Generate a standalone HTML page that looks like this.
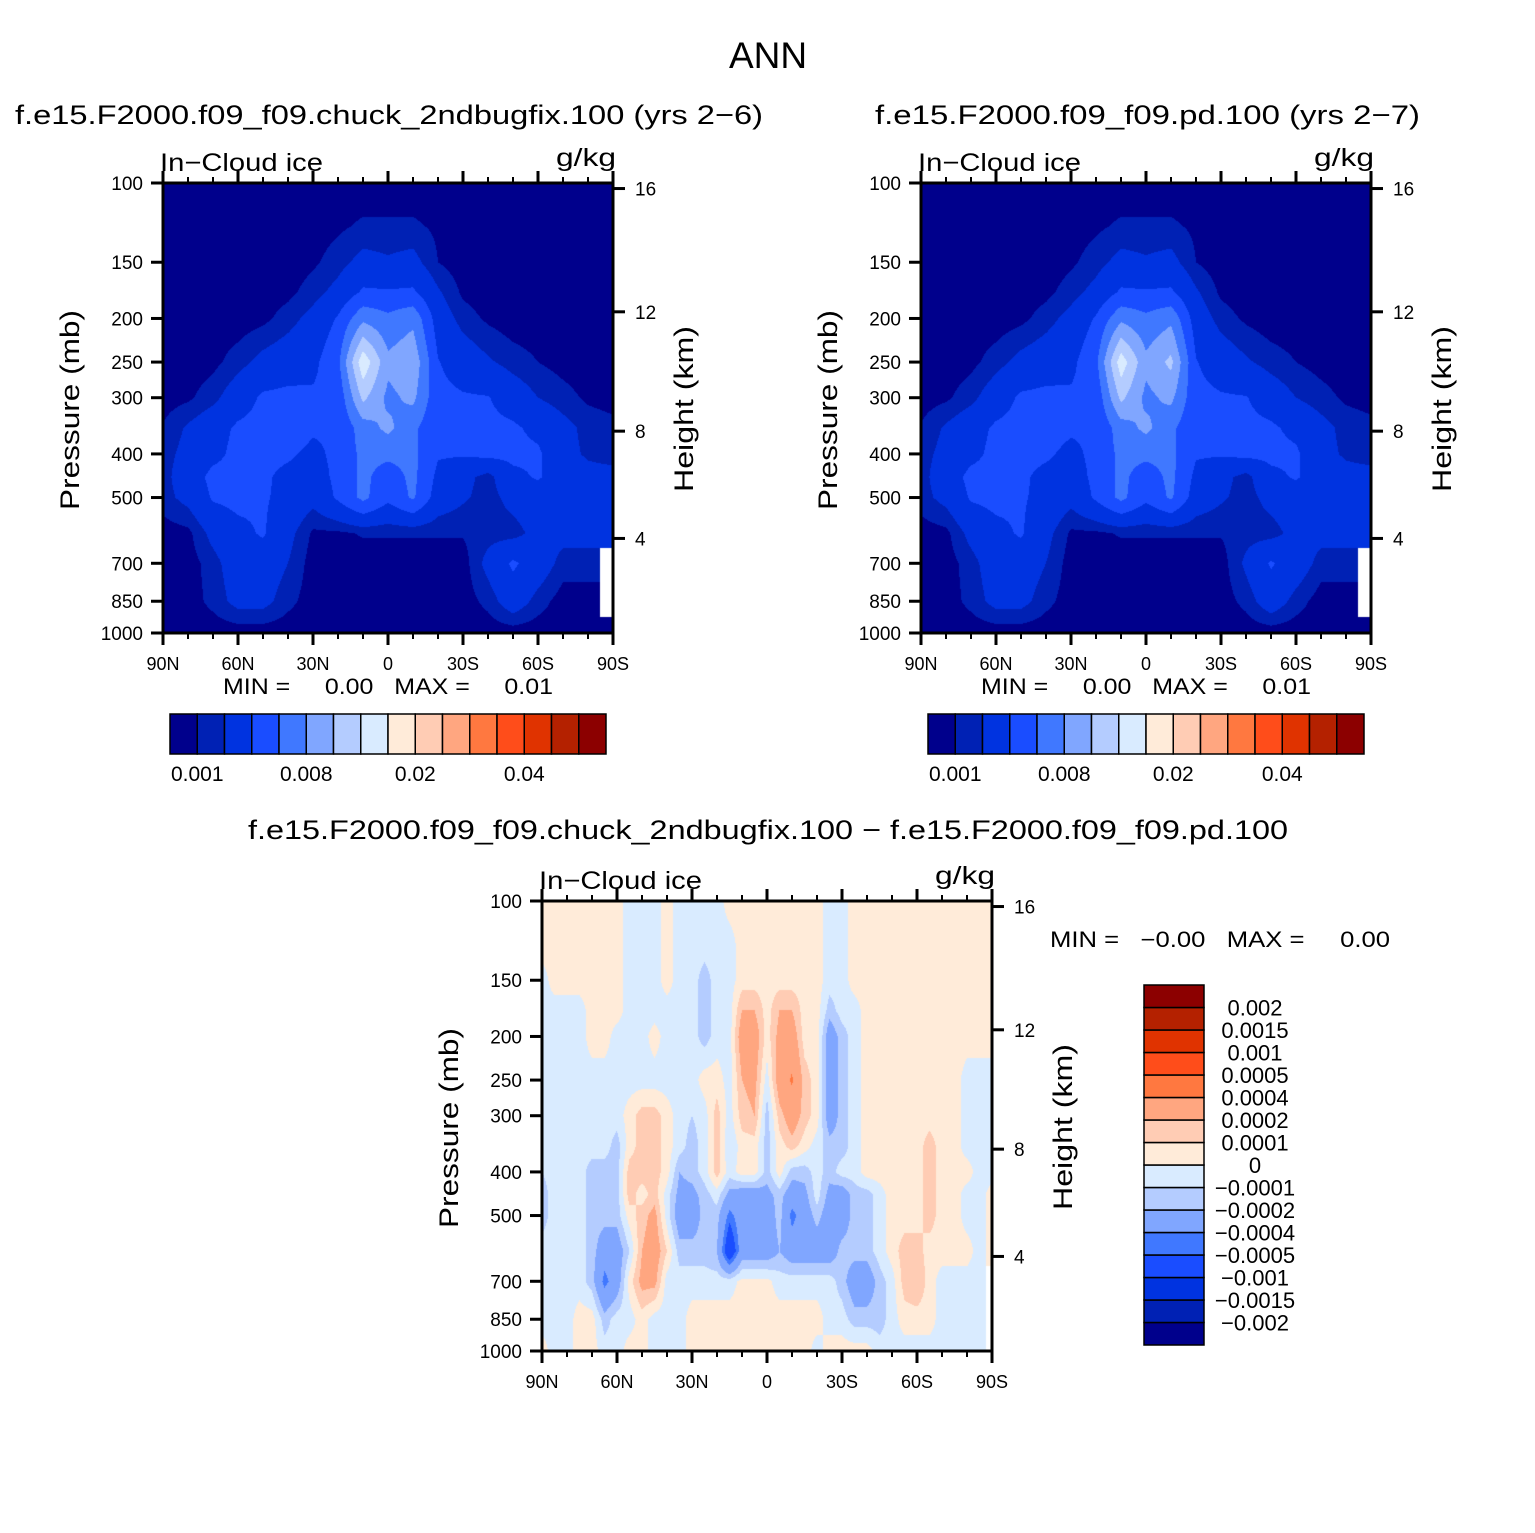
<!DOCTYPE html>
<html><head><meta charset="utf-8">
<style>
html,body{margin:0;padding:0;background:#fff;}
#wrap{position:relative;width:1535px;height:1533px;overflow:hidden;background:#fff;}
canvas{position:absolute;}
svg{position:absolute;left:0;top:0;}
text{font-family:"Liberation Sans",sans-serif;fill:#000;}
</style></head>
<body>
<div id="wrap">
<canvas id="cvL" width="450" height="450" style="left:163px;top:183px"></canvas>
<canvas id="cvR" width="450" height="450" style="left:921px;top:183px"></canvas>
<canvas id="cvD" width="450" height="450" style="left:542px;top:901px"></canvas>
<svg id="ov" width="1535" height="1533">
<text x="768" y="68" font-size="37" text-anchor="middle">ANN</text>
<text x="15" y="124" font-size="27" textLength="748" lengthAdjust="spacingAndGlyphs">f.e15.F2000.f09_f09.chuck_2ndbugfix.100 (yrs 2−6)</text>
<text x="875" y="124" font-size="27" textLength="545" lengthAdjust="spacingAndGlyphs">f.e15.F2000.f09_f09.pd.100 (yrs 2−7)</text>
<text x="248" y="839" font-size="27" textLength="1040" lengthAdjust="spacingAndGlyphs">f.e15.F2000.f09_f09.chuck_2ndbugfix.100 − f.e15.F2000.f09_f09.pd.100</text>
<text x="223" y="694" font-size="22" xml:space="preserve" textLength="330" lengthAdjust="spacingAndGlyphs">MIN =     0.00   MAX =     0.01</text>
<text x="981" y="694" font-size="22" xml:space="preserve" textLength="330" lengthAdjust="spacingAndGlyphs">MIN =     0.00   MAX =     0.01</text>
<text x="1050" y="947" font-size="22" xml:space="preserve" textLength="340" lengthAdjust="spacingAndGlyphs">MIN =   −0.00   MAX =     0.00</text>
<g id="axes"></g>
</svg>
</div>
<script>
// ---------- data ----------
const pressLevels = [100,125,150,175,200,250,300,350,400,450,500,600,700,850,1000];
const latsTop = [90,80,70,60,50,40,30,20,10,0,-10,-20,-30,-40,-50,-60,-70,-80,-90];
const latsDiff = [90,85,80,75,70,65,60,55,50,45,40,35,30,25,20,15,10,5,0,-5,-10,-15,-20,-25,-30,-35,-40,-45,-50,-55,-60,-65,-70,-75,-80,-85,-90];
// in-cloud ice, units 1e-3 g/kg
const iceLeft = [
[.3,.3,.3,.3,.3,.3,.3,.3,.3,.3,.3,.3,.3,.3,.3,.3,.3,.3,.3],
[.5,.5,.5,.5,.5,.5,.5,.8,1.2,1.2,1.2,.8,.5,.5,.5,.5,.5,.5,.5],
[.4,.4,.4,.4,.4,.4,.8,1.5,2.5,2.2,2.5,1.0,.4,.4,.4,.4,.4,.4,.4],
[.4,.4,.4,.4,.4,.7,1.5,2.5,4.3,4.2,4.3,2.2,.8,.4,.4,.4,.4,.4,.4],
[.4,.4,.4,.4,.7,1.5,2.5,4.2,7.5,6.5,7.5,3,1.5,.8,.4,.4,.4,.4,.4],
[.4,.4,.7,1.5,2.5,3,3.5,5.5,13.5,8.5,9.5,4.1,3,2.2,1.5,1.0,.6,.4,.4],
[.5,.8,1.6,3,4.3,4.5,4.3,4.5,10.5,7.5,8.5,4.5,4.2,4.1,3,2,1.4,.8,.6],
[1.1,2.2,3.2,4.3,4.6,5.2,4.3,4.2,7,8.5,6.5,4.2,4.3,4.5,4.3,3.5,2.5,1.6,1.3],
[1.5,2.5,3.5,4.5,4.5,4.3,3.5,4.5,6.5,6.5,6.5,4.2,4.2,4.5,4.5,4.3,2.5,1.8,1.5],
[1.5,3,4.5,4.5,4.3,3.5,3,4.5,6.5,5,6.5,3.5,2.5,1.5,3.5,4.2,3,2.5,2.5],
[1.5,2.5,4.2,4.5,4.2,3.5,2.5,4.3,6.5,4.5,6.3,3,2.2,1.5,2.5,3,3,3,3],
[.5,.7,2.5,3.5,4.2,2.5,.8,.8,1.1,1.1,1.1,1.1,1.1,1.5,1.5,2.5,2.5,2.5,2.5],
[.5,.5,1.5,3,3,2,.5,.5,.5,.5,.5,.5,.5,2.5,4.3,3,1.5,1.5,null],
[.5,.5,1.3,2.5,2.5,1.3,.5,.5,.5,.5,.5,.5,.5,1.3,3,1.5,.5,.5,null],
[.4,.4,.4,.4,.4,.4,.4,.4,.4,.4,.4,.4,.4,.4,.4,.4,.4,.4,.4]
];
const iceRight = [
[.3,.3,.3,.3,.3,.3,.3,.3,.3,.3,.3,.3,.3,.3,.3,.3,.3,.3,.3],
[.5,.5,.5,.5,.5,.5,.5,.8,1.2,1.2,1.2,.8,.5,.5,.5,.5,.5,.5,.5],
[.4,.4,.4,.4,.4,.4,.8,1.5,2.5,2.2,2.5,1.0,.4,.4,.4,.4,.4,.4,.4],
[.4,.4,.4,.4,.4,.7,1.5,2.5,4.3,4.2,4.3,2.2,.8,.4,.4,.4,.4,.4,.4],
[.4,.4,.4,.4,.7,1.5,2.5,4.2,7.5,6.5,7.5,3,1.5,.8,.4,.4,.4,.4,.4],
[.4,.4,.7,1.5,2.5,3,3.5,5.5,13.2,8.5,10.5,4.1,3,2.2,1.5,1.0,.6,.4,.4],
[.5,.8,1.6,3,4.3,4.5,4.3,4.5,10.5,7.5,8.5,4.5,4.2,4.1,3,2,1.4,.8,.6],
[1.1,2.2,3.2,4.3,4.6,4.8,4.3,4.2,7,8.5,6.5,4.2,4.3,4.5,4.3,3.5,2.5,1.6,1.3],
[1.5,2.5,3.5,4.5,4.5,4.3,3.5,4.5,6.5,6.5,6.5,4.2,4.2,4.5,4.5,4.3,2.5,1.8,1.5],
[1.5,3,4.5,4.5,4.3,3.5,3,4.5,6.5,5,6.5,3.5,2.5,1.5,3.5,4.2,3,2.5,2.5],
[1.5,2.5,4.2,4.5,4.2,3.5,2.5,4.3,6.5,4.5,6.3,3,2.2,1.5,2.5,3,3,3,3],
[.5,.7,2.5,3.5,4.2,2.5,.8,.8,1.1,1.1,1.1,1.1,1.1,1.5,1.5,2.5,2.5,2.5,2.5],
[.5,.5,1.5,3,3,2,.5,.5,.5,.5,.5,.5,.5,2.3,4.2,3,1.5,1.5,null],
[.5,.5,1.3,2.5,2.5,1.3,.5,.5,.5,.5,.5,.5,.5,1.3,3,1.5,.5,.5,null],
[.4,.4,.4,.4,.4,.4,.4,.4,.4,.4,.4,.4,.4,.4,.4,.4,.4,.4,.4]
];
// difference, units 1e-4 g/kg
const iceDiff = [
[.5,.5,.5,.5,.5,.5,.5,-.5,-.5,-.5,.5,-.5,-.5,-.5,-.5,.5,.5,.5,.5,.5,.5,.5,.5,-.5,-.5,.5,.5,.5,.5,.5,.5,.5,.5,.5,.5,.5,.5],
[.5,.5,.5,.5,.5,.5,.5,-.5,-.5,-.5,.5,-.5,-.5,-.5,-.5,-.5,.5,.5,.5,.5,.5,.5,.5,-.5,-.5,.5,.5,.5,.5,.5,.5,.5,.5,.5,.5,.5,.5],
[-.5,.5,.5,.5,.5,.5,.5,-.5,-.5,-.5,.5,-.5,-.5,-1.5,-.5,-.5,.5,.5,.5,.5,.5,.5,.5,-.5,-.5,.5,.5,.5,.5,.5,.5,.5,.5,.5,.5,.5,.5],
[-.5,-.5,-.5,-.5,.5,.5,.5,-.5,-.5,-.5,-.5,-.5,-.5,-1.5,-.5,-.5,2,2,.5,2,2,.5,.5,-1.5,-.5,-.5,.5,.5,.5,.5,.5,.5,.5,.5,.5,.5,.5],
[-.5,-.5,-.5,-.5,.5,.5,-.5,-.5,-.5,.5,-.5,-.5,-.5,-1.5,-.5,-.5,3,3,.5,2.5,3,.5,.5,-3,-1.5,-.5,.5,.5,.5,.5,.5,.5,.5,.5,.5,.5,.5],
[-.5,-.5,-.5,-.5,-.5,-.5,-.5,-.5,-.5,-.5,-.5,-.5,-.5,.5,.5,-.5,2,2.5,-.5,3,4.2,1.5,.5,-3,-1.5,-.5,.5,.5,.5,.5,.5,.5,.5,.5,-.5,-.5,-.5],
[-.5,-.5,-.5,-.5,-.5,-.5,-.5,.5,1.5,1.5,.5,-.5,-1,-.5,1.5,-.5,1.5,2,-1.5,1.5,3,1.5,.5,-3,-1.5,-.5,.5,.5,.5,.5,.5,.5,.5,.5,-.5,-.5,-.5],
[-.5,-.5,-.5,-.5,-.5,-.5,-1.5,.5,1.5,1.5,.5,-.5,-1.5,-.5,1.5,-1,.5,.5,-1.5,.5,1.5,.5,-.5,-1.5,-1.5,-.5,.5,.5,.5,.5,.5,1.5,.5,.5,-.5,-.5,-.5],
[-1,-.5,-.5,-.5,-1.5,-1.5,-1.5,1.5,1.5,1.5,.5,-2,-1.5,-.5,1.5,-.5,.5,.5,-1.5,.5,-1.5,-1.5,-.5,-1.5,-.5,-.5,.5,.5,.5,.5,.5,1.5,.5,.5,.5,-.5,-.5],
[-1.5,-.5,-.5,-.5,-1.5,-1.5,-1.5,1.5,.5,1.5,-.5,-2.5,-2.5,-1.5,-.5,-2.5,-3,-3,-2.5,-1.5,-3,-2.5,-.5,-2.5,-3,-1.5,-1.5,-.5,.5,.5,.5,1.5,.5,.5,-.5,-.5,.5],
[-1.5,-.5,-.5,-.5,-1.5,-1.5,-1.5,.5,1.5,2.5,-.5,-3,-3,-1.5,-1.5,-4.5,-3,-3,-3,-1.5,-4.5,-3,-1.5,-3,-3,-1.5,-1.5,-.5,.5,.5,.5,1.5,.5,.5,-.5,-.5,.5],
[-.5,-.5,-.5,-.5,-1.5,-3,-3,-1,2,3,1,-1.5,-1.5,-1.5,-2,-7,-3,-3,-3,-2,-3,-3,-3,-3,-1.5,-1.5,-1.5,-.5,.5,1.5,1.5,.5,.5,.5,.5,-.5,.5],
[-.5,-.5,-.5,-.5,-1.5,-4.5,-3,.5,2.5,2.5,-.5,-.5,-.5,-.5,-.5,-.5,.3,.3,.3,-.5,-.5,-.5,-.5,-.5,-1.5,-3,-3,-1.5,-.5,1.5,2,.5,-.5,-.5,-.5,-.5,null],
[-.5,-.5,-.5,.5,.5,-1.5,-.5,-.5,.5,-.5,-.5,-.5,.5,.5,.5,.5,.5,.5,.5,.5,.5,.5,.5,-.5,-.5,-1.5,-1.5,-1.5,-.5,.5,.5,.5,-.5,-.5,-.5,-.5,null],
[.5,-.5,-.5,.5,.5,-.5,-.5,.5,.5,-.5,-.5,-.5,.5,.5,.5,.5,.5,.5,.5,.5,.5,.5,-.5,.5,.5,.5,.5,-.5,-.5,-.5,-.5,-.5,-.5,-.5,-.5,-.5,null]
];
const topLevels = [1,2,4,6,8,10,12,15,20,25,30,35,40,45,50];
const topBarLabels = ["0.001","0.008","0.02","0.04"];
const topBarLabelIdx = [0,4,8,12];
const diffLevels = [-20,-15,-10,-5,-4,-2,-1,0,1,2,4,5,10,15,20];
const diffBarLabels = ["−0.002","−0.0015","−0.001","−0.0005","−0.0004","−0.0002","−0.0001","0","0.0001","0.0002","0.0004","0.0005","0.001","0.0015","0.002"];
const pTicks = [100,150,200,250,300,400,500,700,850,1000];
const kmTicks = [4,8,12,16];
const latTicks = [90,60,30,0,-30,-60,-90];
const latTickLabels = ["90N","60N","30N","0","30S","60S","90S"];
const palette = ["#00008c","#0021b4","#0033e0","#1a4dff","#4078ff","#80a6ff","#b4ccff","#d9ebff","#ffebd9","#ffccb4","#ffa680","#ff7840","#ff4d1a","#e03300","#b42100","#8c0000"];

// ---------- scales ----------
const W = 450, H = 450;
function yOfP(p){ return H*Math.log10(p/100); }
function xOfLat(lat){ return (90-lat)/180*W; }
function pOfKm(z){ const m=z*1000; return m<11000 ? 1013.25*Math.pow(1-2.25577e-5*m,5.25588) : 226.32*Math.exp(-0.000157688*(m-11000)); }
function hexRGB(h){ return [parseInt(h.slice(1,3),16),parseInt(h.slice(3,5),16),parseInt(h.slice(5,7),16)]; }
const palRGB = palette.map(hexRGB);
function classify(v,levels){ let k=0; for(const l of levels){ if(v>=l) k++; } return k; }

function drawField(id, data, lats, levels){
  const cv=document.getElementById(id), ctx=cv.getContext('2d');
  const img=ctx.createImageData(W,H);
  const logP=pressLevels.map(p=>Math.log(p));
  const nc=lats.length;
  for(let y=0;y<H;y++){
    const lp=Math.log(100*Math.pow(10,(y+0.5)/H));
    let r=0; while(r<logP.length-2 && lp>logP[r+1]) r++;
    let fy=(lp-logP[r])/(logP[r+1]-logP[r]); fy=Math.max(0,Math.min(1,fy));
    for(let x=0;x<W;x++){
      const lat=90-(x+0.5)/W*180;
      const fc=(lats[0]-lat)/(lats[0]-lats[nc-1])*(nc-1);
      let c=Math.min(nc-2,Math.floor(fc)); const fx=fc-c;
      const nr = fy<0.5?r:r+1, ncI = fx<0.5?c:c+1;
      const idx=(y*W+x)*4;
      if(data[nr][ncI]===null){ img.data[idx]=255;img.data[idx+1]=255;img.data[idx+2]=255;img.data[idx+3]=255;continue; }
      const g=(rr,cc)=>{ const v=data[rr][cc]; return v===null?data[nr][ncI]:v; };
      const v=(1-fy)*((1-fx)*g(r,c)+fx*g(r,c+1))+fy*((1-fx)*g(r+1,c)+fx*g(r+1,c+1));
      const col=palRGB[classify(v,levels)];
      img.data[idx]=col[0];img.data[idx+1]=col[1];img.data[idx+2]=col[2];img.data[idx+3]=255;
    }
  }
  ctx.putImageData(img,0,0);
}
drawField('cvL', iceLeft, latsTop, topLevels);
drawField('cvR', iceRight, latsTop, topLevels);
drawField('cvD', iceDiff, latsDiff, diffLevels);

// ---------- axes ----------
const NS='http://www.w3.org/2000/svg';
const axes=document.getElementById('axes');
function mk(tag,attrs,parent){ const e=document.createElementNS(NS,tag); for(const k in attrs) e.setAttribute(k,attrs[k]); (parent||axes).appendChild(e); return e; }
function drawAxes(ox,oy,prefix){
  const g=mk('g',{});
  
  
  const box=mk('rect',{x:ox,y:oy,width:W,height:H,fill:'none',stroke:'#000','stroke-width':3},g);
  
  
  for(let lat=90;lat>=-90;lat-=10){
    const x=ox+xOfLat(lat), major=(lat%30===0), L=major?12:6, w=major?3:2;
    mk('line',{x1:x,y1:oy+H,x2:x,y2:oy+H+L,stroke:'#000','stroke-width':w},g);
    mk('line',{x1:x,y1:oy,x2:x,y2:oy-L,stroke:'#000','stroke-width':w},g);
  }
  latTicks.forEach((lat,i)=>{
    const t=mk('text',{x:ox+xOfLat(lat),y:oy+H+37,'font-size':18,'text-anchor':'middle'},g);
    t.textContent=latTickLabels[i];
    
    
  });
  pTicks.forEach(p=>{
    const y=oy+yOfP(p);
    mk('line',{x1:ox-12,y1:y,x2:ox,y2:y,stroke:'#000','stroke-width':3},g);
    const t=mk('text',{x:ox-20,y:y+7,'font-size':19,'text-anchor':'end'},g);
    t.textContent=String(p);
    
    
  });
  kmTicks.forEach(z=>{
    const y=oy+yOfP(pOfKm(z));
    mk('line',{x1:ox+W,y1:y,x2:ox+W+12,y2:y,stroke:'#000','stroke-width':3},g);
    const t=mk('text',{x:ox+W+22,y:y+7,'font-size':19},g);
    t.textContent=String(z);
    
    
  });
  const yl=mk('text',{x:0,y:0,'font-size':27,'text-anchor':'middle',textLength:200,lengthAdjust:'spacingAndGlyphs',transform:`translate(${ox-84},${oy+227}) rotate(-90)`},g);
  yl.textContent='Pressure (mb)';
  
  
  const yr=mk('text',{x:0,y:0,'font-size':27,'text-anchor':'middle',textLength:166,lengthAdjust:'spacingAndGlyphs',transform:`translate(${ox+W+80},${oy+226}) rotate(-90)`},g);
  yr.textContent='Height (km)';
  
  
  const lt=mk('text',{x:ox-3,y:oy-12,'font-size':25,textLength:163,lengthAdjust:'spacingAndGlyphs'},g);
  lt.textContent='In−Cloud ice';
  
  
  const un=mk('text',{x:ox+W-57,y:oy-17,'font-size':25,textLength:60,lengthAdjust:'spacingAndGlyphs'},g);
  un.textContent='g/kg';
  
  
}
drawAxes(163,183,'left');
drawAxes(921,183,'right');
drawAxes(542,901,'diff');

function hBar(ox,oy,prefix){
  const g=mk('g',{});
  
  
  const bw=436/palette.length;
  palette.forEach((c,i)=>{
    const r=mk('rect',{x:ox+i*bw,y:oy,width:bw,height:40,fill:c,stroke:'#000','stroke-width':1.5},g);
    
    
  });
  topBarLabels.forEach((s,i)=>{
    const t=mk('text',{x:ox+(topBarLabelIdx[i]+1)*bw,y:oy+67,'font-size':21,'text-anchor':'middle'},g);
    t.textContent=s;
    
    
  });
}
hBar(170,714,'left');
hBar(928,714,'right');

(function vBar(){
  const g=mk('g',{});
  
  
  const ox=1144, oy=985, bh=360/palette.length;
  palette.forEach((c,i)=>{
    const r=mk('rect',{x:ox,y:oy+(palette.length-1-i)*bh,width:60,height:bh,fill:c,stroke:'#000','stroke-width':1.5},g);
    
    
  });
  diffBarLabels.forEach((s,i)=>{
    const y=oy+(palette.length-1-i)*bh;
    const t=mk('text',{x:1255,y:y+8,'font-size':22,'text-anchor':'middle'},g);
    t.textContent=s;
    
    
  });
})();
</script>
</body></html>
